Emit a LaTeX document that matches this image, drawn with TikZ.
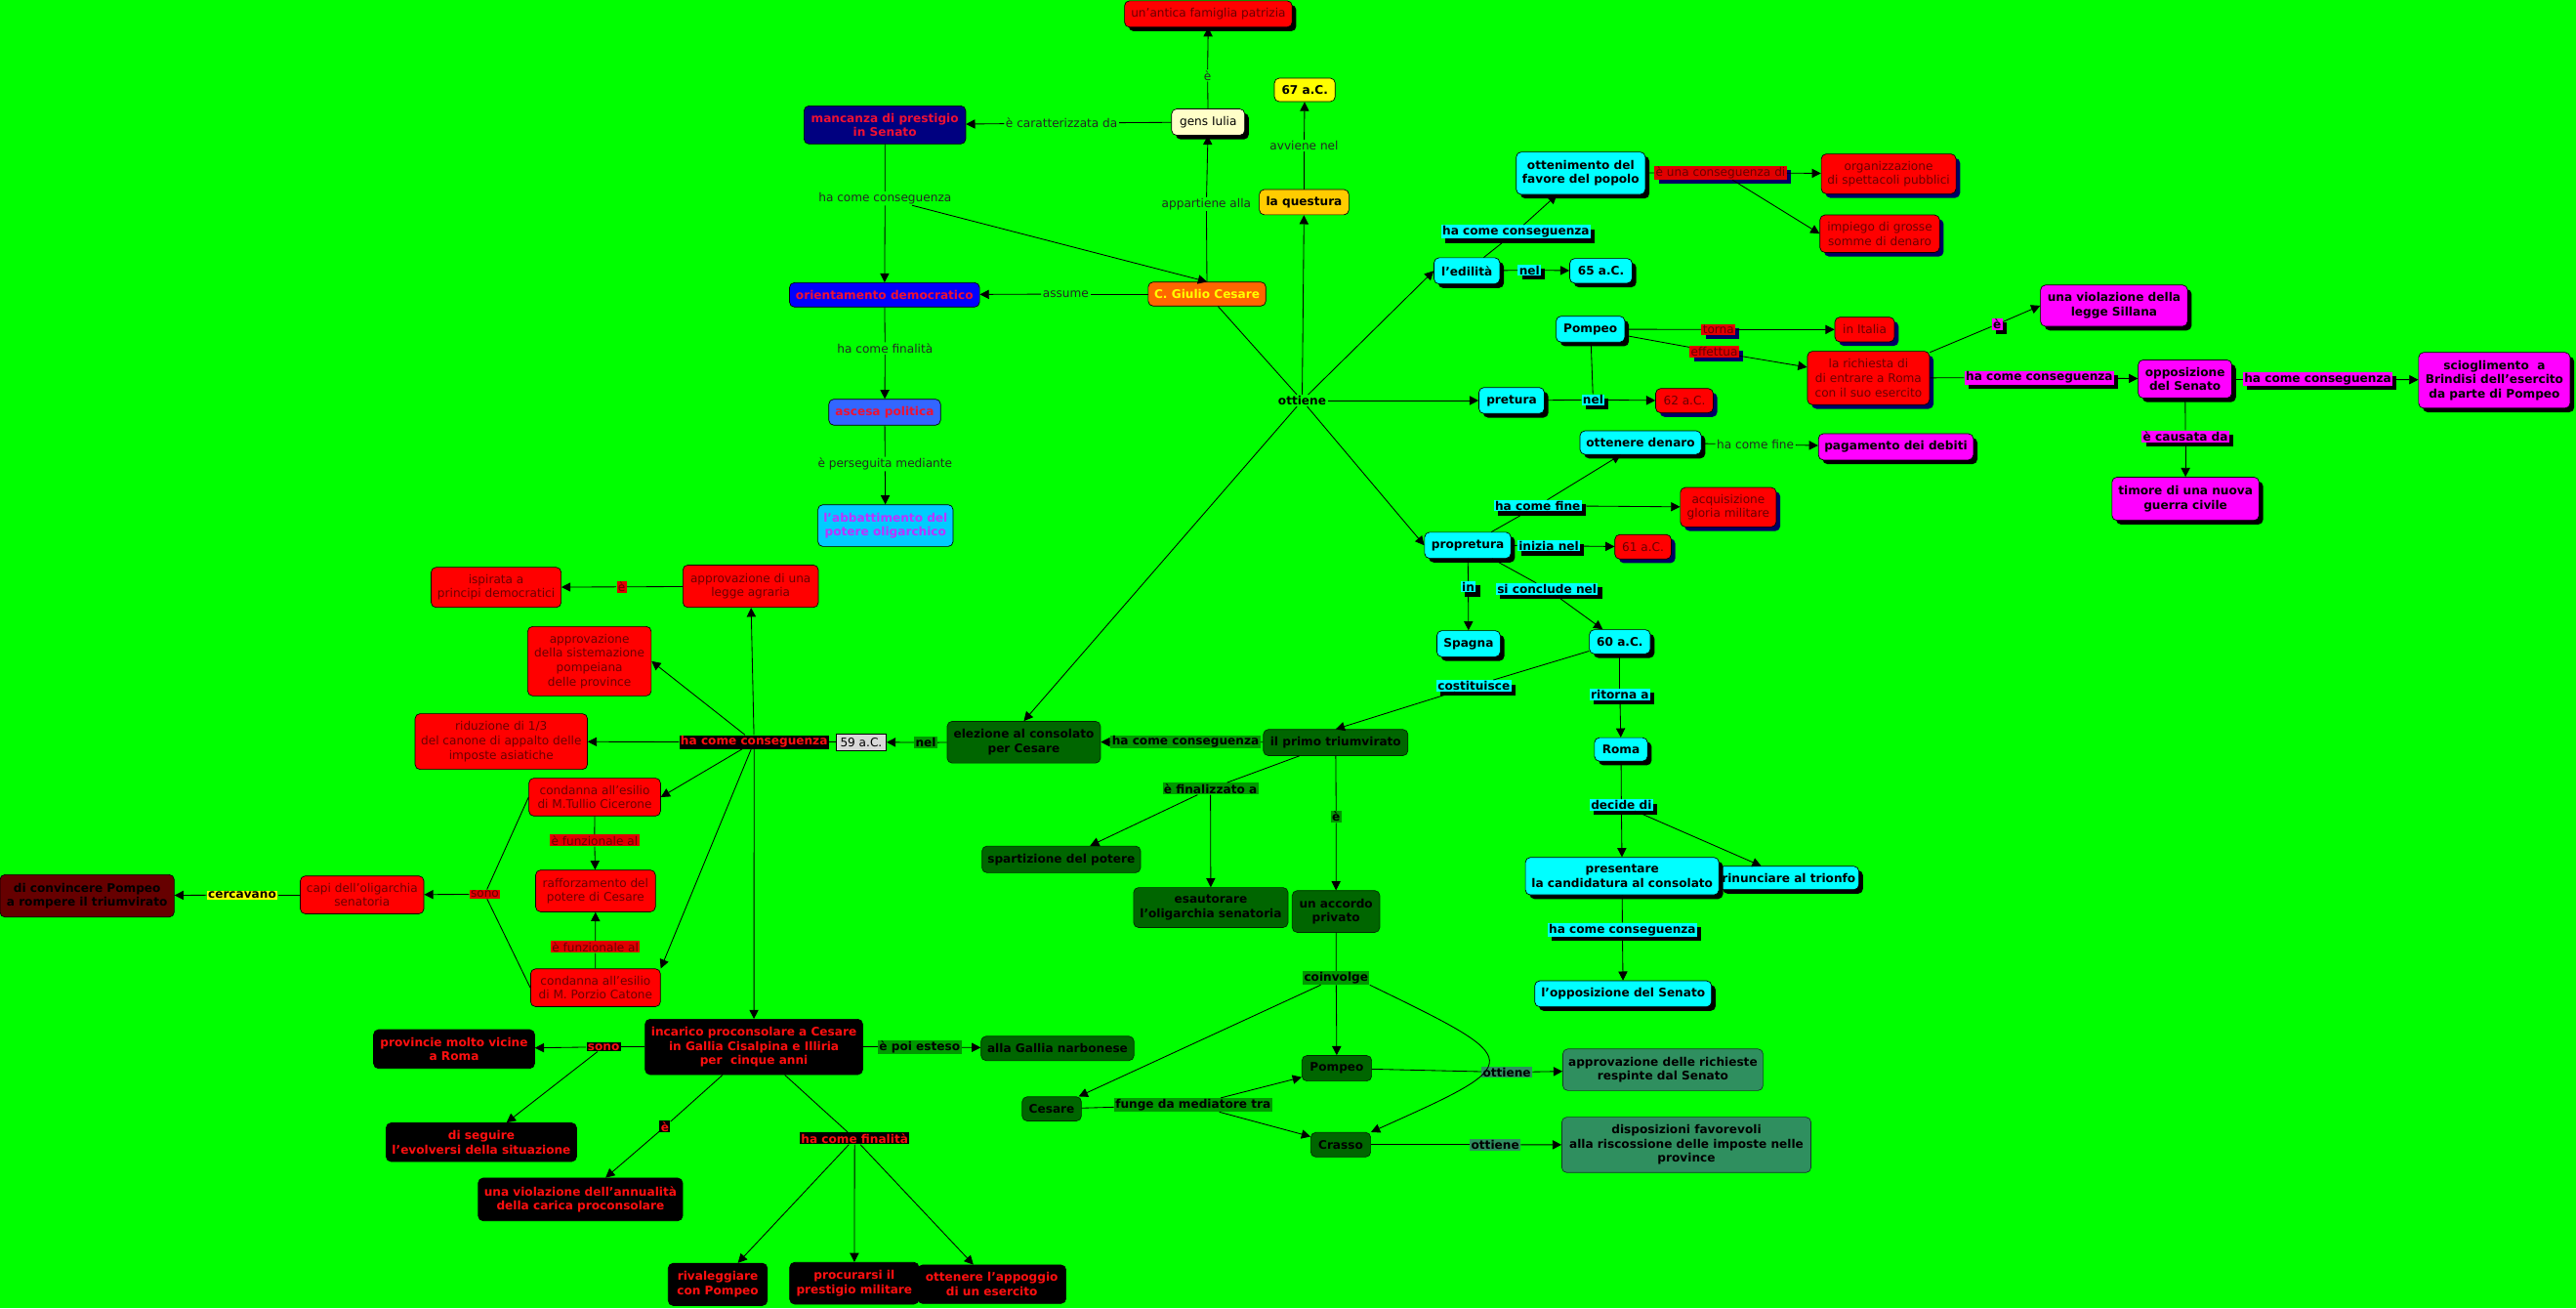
\documentclass[tikz,border=0pt]{standalone}
\usepackage{fontspec}
\setmainfont{DejaVu Sans}
\usetikzlibrary{arrows.meta,shadows}
\definecolor{bgG}{HTML}{00FF00}
\definecolor{cyanF}{HTML}{00FFFF}
\definecolor{redF}{HTML}{FF0000}
\definecolor{redT}{HTML}{6A0000}
\definecolor{redL}{HTML}{E00000}
\definecolor{navyS}{HTML}{000066}
\definecolor{magF}{HTML}{FF00FF}
\definecolor{dgreenF}{HTML}{006600}
\definecolor{mgreenL}{HTML}{009900}
\definecolor{seaF}{HTML}{2F8F5F}
\definecolor{greyF}{HTML}{D8D8D8}
\definecolor{dredF}{HTML}{660000}
\definecolor{navyF}{HTML}{000080}
\definecolor{blueF}{HTML}{0000FF}
\definecolor{ascF}{HTML}{3366FF}
\definecolor{abbF}{HTML}{00CCFF}
\definecolor{abbT}{HTML}{BB33FF}
\definecolor{orangeF}{HTML}{FF6600}
\definecolor{yelF}{HTML}{FFFF00}
\definecolor{questF}{HTML}{FFCC00}
\definecolor{gensF}{HTML}{FFFFC8}
\definecolor{redB}{HTML}{EE1133}
\definecolor{redK}{HTML}{FF1010}
\newcommand\mapfont{\fontsize{7.2}{8.7}\selectfont}
\tikzset{
  box/.style={draw=black, line width=0.4pt, rounded corners=3pt, align=center, inner xsep=2pt, inner ysep=1pt, font=\mapfont},
  boxb/.style={box, font=\mapfont\bfseries},
  shk/.style={drop shadow={shadow xshift=2.5pt, shadow yshift=-2.5pt, fill=black, opacity=1}},
  shn/.style={drop shadow={shadow xshift=2.5pt, shadow yshift=-2.5pt, fill=navyS, opacity=1}},
  cyanN/.style={boxb, fill=cyanF, shk},
  rednS/.style={box, fill=redF, text=redT, shn},
  redN/.style={box, fill=redF, text=redT},
  magN/.style={boxb, fill=magF, shk},
  greenN/.style={boxb, fill=dgreenF, draw=black!60!dgreenF},
  seaN/.style={boxb, fill=seaF, draw=black!60!seaF},
  blackN/.style={boxb, fill=black, text=redK},
  greyN/.style={box, rounded corners=0pt, fill=greyF, inner xsep=2.5pt},
  lbl/.style={font=\mapfont, inner xsep=0.8pt, inner ysep=0.6pt},
  lp/.style={lbl, text=black!85},
  lpb/.style={lbl, font=\mapfont\bfseries},
  lc/.style={lbl, font=\mapfont\bfseries, fill=cyanF, shk},
  lr/.style={lbl, fill=redL, text=redT, shn},
  lm/.style={lbl, font=\mapfont\bfseries, fill=magF, shk},
  lg/.style={lbl, font=\mapfont\bfseries, fill=mgreenL},
  ls/.style={lbl, font=\mapfont\bfseries, fill=seaF},
  lk/.style={lbl, font=\mapfont\bfseries, fill=black, text=redK},
  lrr/.style={lbl, fill=redL, text=redT},
  ly/.style={lbl, font=\mapfont\bfseries, fill=yelF},
  con/.style={draw=black, line width=0.5pt},
  arr/.style={con, -{Triangle[length=5.5pt,width=5.5pt]}}
}
\begin{document}
\begin{tikzpicture}[x=1pt,y=-1pt]
\useasboundingbox (0,0) rectangle (1568,796);
\fill[bgG] (0,0) rectangle (1568,796);

% ---------- top ----------
\node[box, fill=redF, text=redT, shk, minimum width=102, minimum height=16] (antica) at (735.5,8.5) {un'antica famiglia patrizia};
\node[box, fill=gensF, shk, minimum width=44.5, minimum height=16] (gens) at (735.4,74.3) {gens Iulia};
\node[boxb, fill=yelF, minimum width=37, minimum height=14.3] (n67) at (794.2,54.7) {67 a.C.};
\node[boxb, fill=questF, minimum width=54.5, minimum height=15.4] (quest) at (793.8,123) {la questura};
\node[boxb, fill=navyF, text=redB, minimum width=98.4, minimum height=23.2] (mancanza) at (538.6,76) {mancanza di prestigio\\in Senato};
\node[boxb, fill=orangeF, text=yelF, minimum width=71.6, minimum height=14.6] (cesare) at (734.7,178.9) {C. Giulio Cesare};
\node[boxb, fill=blueF, text=redB, minimum width=115.7, minimum height=14.8] (orient) at (538.4,179.4) {orientamento democratico};
\node[boxb, fill=ascF, text=redB, minimum width=68, minimum height=15.8] (ascesa) at (538.5,250.8) {ascesa politica};
\node[boxb, fill=abbF, text=abbT, minimum width=82.3, minimum height=25.4] (abbatt) at (539,319.8) {l'abbattimento del\\potere oligarchico};

% ---------- cyan / right ----------
\node[cyanN, minimum width=78.5, minimum height=25.8] (ottenimento) at (962.2,105.4) {ottenimento del\\favore del popolo};
\node[rednS, minimum width=82, minimum height=24.2] (organ) at (1149.6,105.8) {organizzazione\\di spettacoli pubblici};
\node[rednS, minimum width=72.8, minimum height=22.8] (impiego) at (1144.2,142.2) {impiego di grosse\\somme di denaro};
\node[cyanN, minimum width=40, minimum height=15.9] (edil) at (892.9,164.8) {l'edilità};
\node[cyanN, minimum width=38, minimum height=15] (n65) at (974.5,164.8) {65 a.C.};
\node[cyanN, minimum width=41.8, minimum height=15.8] (pompeo1) at (968.1,200.3) {Pompeo};
\node[rednS, minimum width=36.3, minimum height=15] (italia) at (1135,200.5) {in Italia};
\node[rednS, minimum width=74.3, minimum height=32.5] (richiesta) at (1137.3,230) {la richiesta di\\di entrare a Roma\\con il suo esercito};
\node[cyanN, minimum width=39.8, minimum height=15.8] (pretura) at (920.1,243.7) {pretura};
\node[rednS, minimum width=35, minimum height=14.8] (n62) at (1025.3,243.8) {62 a.C.};
\node[magN, minimum width=89.5, minimum height=25.1] (violSill) at (1286.8,186) {una violazione della\\legge Sillana};
\node[magN, minimum width=57, minimum height=23.2] (oppSen) at (1330,230.6) {opposizione\\del Senato};
\node[magN, minimum width=92.2, minimum height=33.9] (sciogl) at (1518.3,231.4) {scioglimento~ a\\Brindisi dell'esercito\\da parte di Pompeo};
\node[magN, minimum width=89.5, minimum height=26.3] (timore) at (1330.3,303.5) {timore di una nuova\\guerra civile};
\node[cyanN, minimum width=73.8, minimum height=14.3] (ottDen) at (998.6,269.3) {ottenere denaro};
\node[magN, minimum width=94.3, minimum height=16] (pagam) at (1154,271.9) {pagamento dei debiti};
\node[rednS, minimum width=58.3, minimum height=24] (acquis) at (1052,308.6) {acquisizione\\gloria militare};
\node[cyanN, minimum width=52.5, minimum height=15.9] (propret) at (893.4,331.8) {propretura};
\node[rednS, minimum width=34.3, minimum height=14.9] (n61) at (1000.1,332.7) {61 a.C.};
\node[cyanN, minimum width=38.6, minimum height=15.9] (spagna) at (893.9,391.7) {Spagna};
\node[cyanN, minimum width=37.1, minimum height=14.7] (n60) at (986,390.5) {60 a.C.};
\node[cyanN, minimum width=32.3, minimum height=14.3] (roma) at (986.7,456) {Roma};
\node[cyanN, minimum width=85, minimum height=14.2] (rinunciare) at (1088.8,534.2) {rinunciare al trionfo};
\node[cyanN, minimum width=117.8, minimum height=22.8] (presentare) at (987.4,533.1) {presentare\\la candidatura al consolato};
\node[cyanN, minimum width=107.6, minimum height=15.8] (oppSen2) at (988,604.7) {l'opposizione del Senato};

% ---------- green ----------
\node[greenN, minimum width=88, minimum height=15.9] (triumv) at (813,451.8) {il primo triumvirato};
\node[greenN, minimum width=93.3, minimum height=25.4] (elezione) at (623.2,451.6) {elezione al consolato\\per Cesare};
\node[greyN, minimum width=30.2, minimum height=10.3] (n59) at (524.2,451.5) {59 a.C.};
\node[greenN, minimum width=96.5, minimum height=16.2] (spartiz) at (646,522.9) {spartizione del potere};
\node[greenN, minimum width=94, minimum height=24.3] (esaut) at (737,552.2) {esautorare\\l'oligarchia senatoria};
\node[greenN, minimum width=53.3, minimum height=25.4] (accordo) at (813.2,554.6) {un accordo\\privato};
\node[greenN, minimum width=36, minimum height=14.7] (cesare2) at (640.2,674.7) {Cesare};
\node[greenN, minimum width=42.4, minimum height=15.5] (pompeo2) at (813.7,650) {Pompeo};
\node[greenN, minimum width=36.4, minimum height=14.9] (crasso) at (816.1,696.5) {Crasso};
\node[seaN, minimum width=121.8, minimum height=25.3] (approvRich) at (1012.2,650.9) {approvazione delle richieste\\respinte dal Senato};
\node[seaN, minimum width=151.6, minimum height=33.7] (dispos) at (1026.5,696.6) {disposizioni favorevoli\\alla riscossione delle imposte nelle\\province};

% ---------- left ----------
\node[redN, minimum width=82.4, minimum height=25.8] (agraria) at (456.9,356.7) {approvazione di una\\legge agraria};
\node[redN, minimum width=79.1, minimum height=24.4] (ispirata) at (302,357.4) {ispirata a\\principi democratici};
\node[redN, minimum width=75.2, minimum height=42.2] (sistem) at (358.8,402.3) {approvazione\\della sistemazione\\pompeiana\\delle province};
\node[redN, minimum width=104.9, minimum height=33.9] (riduz) at (305.1,451.2) {riduzione di 1/3\\del canone di appalto delle\\imposte asiatiche};
\node[redN, minimum width=80.1, minimum height=23] (cicer) at (362,485) {condanna all'esilio\\di M.Tullio Cicerone};
\node[redN, minimum width=72.9, minimum height=25.4] (raffor) at (362.5,542.1) {rafforzamento del\\potere di Cesare};
\node[redN, minimum width=79, minimum height=23] (catone) at (362.5,601) {condanna all'esilio\\di M. Porzio Catone};
\node[redN, minimum width=75.2, minimum height=23] (capi) at (220.4,544.5) {capi dell'oligarchia\\senatoria};
\node[boxb, fill=dredF, minimum width=106, minimum height=25.8] (convincere) at (53,545.1) {di convincere Pompeo\\a rompere il triumvirato};
\node[blackN, minimum width=132.4, minimum height=33.7] (incarico) at (458.9,637) {incarico proconsolare a Cesare\\in Gallia Cisalpina e Illiria\\per~ cinque anni};
\node[greenN, minimum width=93, minimum height=14.8] (gallia) at (643.7,637.9) {alla Gallia narbonese};
\node[blackN, minimum width=98, minimum height=23.6] (provincie) at (276.4,638.3) {provincie molto vicine\\a Roma};
\node[blackN, minimum width=115.9, minimum height=23.5] (seguire) at (293,695) {di seguire\\l'evolversi della situazione};
\node[blackN, minimum width=124.4, minimum height=26] (violAnn) at (353.3,729.8) {una violazione dell'annualità\\della carica proconsolare};
\node[blackN, minimum width=60.3, minimum height=25.7] (rival) at (436.9,781.5) {rivaleggiare\\con Pompeo};
\node[blackN, minimum width=78.6, minimum height=25.4] (procurarsi) at (520,780.8) {procurarsi il\\prestigio militare};
\node[blackN, minimum width=90.3, minimum height=23.4] (ottAppoggio) at (603.7,781.4) {ottenere l'appoggio\\di un esercito};

% ---------- labels ----------
\node[lp] (l_e1) at (735,46) {è};
\node[lp] (l_car) at (646.2,74.9) {è caratterizzata da};
\node[lp] (l_app) at (734.3,124.2) {appartiene alla};
\node[lp] (l_avv) at (793.8,88.6) {avviene nel};
\node[lp] (l_hcc1) at (538.7,120.7) {ha come conseguenza};
\node[lp] (l_ass) at (648.7,178.9) {assume};
\node[lp] (l_fin) at (538.7,212) {ha come finalità};
\node[lp] (l_pers) at (538.7,282.3) {è perseguita mediante};
\node[lpb] (ott) at (792.6,243.7) {ottiene};

\node[lc] (l_hcc2) at (922.7,141.1) {ha come conseguenza};
\node[lc] (l_nel1) at (931,164.4) {nel};
\node[lr] (l_cons) at (1047.3,105) {è una conseguenza di};
\node[lr] (l_torna) at (1046,200.5) {torna};
\node[lr] (l_eff) at (1043.5,214) {effettua};
\node[lc] (l_nel2) at (969.7,243.3) {nel};
\node[lm] (l_e2) at (1215.6,197.3) {è};
\node[lm] (l_hcc3) at (1241.3,229.8) {ha come conseguenza};
\node[lm] (l_hcc4) at (1410.8,230.6) {ha come conseguenza};
\node[lm] (l_caus) at (1330.3,265.5) {è causata da};
\node[lp] (l_fine1) at (1068.5,270.4) {ha come fine};
\node[lc] (l_fine2) at (936,307.7) {ha come fine};
\node[lc] (l_iniz) at (942.7,332.1) {inizia nel};
\node[lc] (l_in) at (893.7,357.1) {in};
\node[lc] (l_concl) at (941.6,358.3) {si conclude nel};
\node[lc] (l_cost) at (897.1,417.3) {costituisce};
\node[lc] (l_rit) at (986,422.5) {ritorna a};
\node[lc] (l_dec) at (986.9,489.8) {decide di};
\node[lc] (l_hcc5) at (987.5,565.7) {ha come conseguenza};

\node[lg] (l_hcc6) at (721.6,451.4) {ha come conseguenza};
\node[lg] (l_nel3) at (563.5,451.8) {nel};
\node[lg] (l_final) at (736.8,479.9) {è finalizzato a};
\node[lg] (l_e3) at (813.3,497) {è};
\node[lg] (l_coinv) at (813.3,595) {coinvolge};
\node[lg] (l_funge) at (726.2,672.3) {funge da mediatore tra};
\node[ls] (l_ott1) at (917.2,652.4) {ottiene};
\node[ls] (l_ott2) at (910.1,696.5) {ottiene};

\node[lk] (l_hcc7) at (459,451.5) {ha come conseguenza};
\node[lrr] (l_e4) at (378.4,357.1) {è};
\node[lrr] (l_funz1) at (361.9,511.4) {è funzionale al};
\node[lrr] (l_funz2) at (362.4,576.2) {è funzionale al};
\node[lrr] (l_sono1) at (295.1,544.1) {sono};
\node[ly] (l_cerc) at (147.4,544.5) {cercavano};
\node[lg] (l_esteso) at (559.8,637) {è poi esteso};
\node[lk] (l_sono2) at (367.4,637) {sono};
\node[lk] (l_e5) at (404.7,685.5) {è};
\node[lk] (l_fin2) at (520.2,692.7) {ha come finalità};

% ---------- connectors: top ----------
\draw[con] (gens) -- (l_e1); \draw[arr] (l_e1) -- (antica);
\draw[con] (gens) -- (l_car); \draw[arr] (l_car) -- (mancanza);
\draw[con] (cesare) -- (l_app); \draw[arr] (l_app) -- (gens);
\draw[con] (quest) -- (l_avv); \draw[arr] (l_avv) -- (n67);
\draw[con] (mancanza) -- (l_hcc1); \draw[arr] (l_hcc1) -- (orient); \draw[arr] (l_hcc1) -- (cesare.north);
\draw[con] (cesare) -- (l_ass); \draw[arr] (l_ass) -- (orient);
\draw[con] (orient) -- (l_fin); \draw[arr] (l_fin) -- (ascesa);
\draw[con] (ascesa) -- (l_pers); \draw[arr] (l_pers) -- (abbatt);
\draw[con] (cesare) -- (ott);
\draw[arr] (ott) -- (quest);
\draw[arr] (ott) -- (edil.west);
\draw[arr] (ott) -- (pretura);
\draw[arr] (ott) -- (propret.west);
\draw[arr] (ott) -- (elezione.north);

% ---------- connectors: cyan ----------
\draw[con] (edil) -- (l_hcc2); \draw[arr] (l_hcc2) -- (ottenimento);
\draw[con] (edil) -- (l_nel1); \draw[arr] (l_nel1) -- (n65);
\draw[con] (ottenimento) -- (l_cons); \draw[arr] (l_cons) -- (organ); \draw[arr] (l_cons) -- (impiego.west);
\draw[con] (pompeo1) -- (l_torna); \draw[arr] (l_torna) -- (italia);
\draw[con] (pompeo1) -- (l_eff); \draw[arr] (l_eff) -- (richiesta.170);
\draw[con] (pretura) -- (l_nel2); \draw[arr] (l_nel2) -- (n62); \draw[con] (pompeo1) -- (l_nel2);
\draw[con] (richiesta) -- (l_e2); \draw[arr] (l_e2) -- (violSill.west);
\draw[con] (richiesta) -- (l_hcc3); \draw[arr] (l_hcc3) -- (oppSen);
\draw[con] (oppSen) -- (l_hcc4); \draw[arr] (l_hcc4) -- (sciogl);
\draw[con] (oppSen) -- (l_caus); \draw[arr] (l_caus) -- (timore);
\draw[con] (ottDen) -- (l_fine1); \draw[arr] (l_fine1) -- (pagam);
\draw[con] (propret) -- (l_fine2); \draw[arr] (l_fine2) -- (ottDen); \draw[arr] (l_fine2) -- (acquis);
\draw[con] (propret) -- (l_iniz); \draw[arr] (l_iniz) -- (n61);
\draw[con] (propret) -- (l_in); \draw[arr] (l_in) -- (spagna);
\draw[con] (propret) -- (l_concl); \draw[arr] (l_concl) -- (n60);
\draw[con] (n60) -- (l_rit); \draw[arr] (l_rit) -- (roma);
\draw[con] (n60) -- (l_cost); \draw[arr] (l_cost) -- (triumv.north);
\draw[con] (roma) -- (l_dec); \draw[arr] (l_dec) -- (presentare); \draw[arr] (l_dec) -- (rinunciare);
\draw[con] (presentare) -- (l_hcc5); \draw[arr] (l_hcc5) -- (oppSen2);

% ---------- connectors: green ----------
\draw[con] (triumv) -- (l_hcc6); \draw[arr] (l_hcc6) -- (elezione);
\draw[con] (elezione) -- (l_nel3); \draw[arr] (l_nel3) -- (n59);
\draw[con] (triumv) -- (l_final); \draw[arr] (l_final) -- (spartiz); \draw[arr] (l_final) -- (esaut);
\draw[con] (triumv) -- (l_e3); \draw[arr] (l_e3) -- (accordo);
\draw[con] (accordo) -- (l_coinv);
\draw[arr] (l_coinv) -- (cesare2); \draw[arr] (l_coinv) -- (pompeo2);
\draw[arr] (l_coinv.south east) .. controls (930,646) .. (crasso.north east);
\draw[con] (cesare2) -- (l_funge); \draw[arr] (l_funge) -- (pompeo2); \draw[arr] (l_funge) -- (crasso);
\draw[con] (pompeo2) -- (l_ott1); \draw[arr] (l_ott1) -- (approvRich);
\draw[con] (crasso) -- (l_ott2); \draw[arr] (l_ott2) -- (dispos);

% ---------- connectors: left ----------
\draw[con] (n59) -- (l_hcc7);
\draw[arr] (l_hcc7) -- (agraria);
\draw[arr] (l_hcc7) -- (sistem.east);
\draw[arr] (l_hcc7) -- (riduz);
\draw[arr] (l_hcc7) -- (cicer.east);
\draw[arr] (l_hcc7) -- (catone.north east);
\draw[arr] (l_hcc7) -- (incarico);
\draw[con] (agraria) -- (l_e4); \draw[arr] (l_e4) -- (ispirata);
\draw[con] (cicer) -- (l_funz1); \draw[arr] (l_funz1) -- (raffor);
\draw[con] (catone) -- (l_funz2); \draw[arr] (l_funz2) -- (raffor);
\draw[con] (cicer.west) -- (l_sono1); \draw[con] (catone.west) -- (l_sono1); \draw[arr] (l_sono1) -- (capi);
\draw[con] (capi) -- (l_cerc); \draw[arr] (l_cerc) -- (convincere);
\draw[con] (incarico) -- (l_esteso); \draw[arr] (l_esteso) -- (gallia);
\draw[con] (incarico) -- (l_sono2); \draw[arr] (l_sono2) -- (provincie); \draw[arr] (l_sono2) -- (seguire);
\draw[con] (incarico) -- (l_e5); \draw[arr] (l_e5) -- (violAnn);
\draw[con] (incarico) -- (l_fin2);
\draw[arr] (l_fin2) -- (rival); \draw[arr] (l_fin2) -- (procurarsi); \draw[arr] (l_fin2) -- (ottAppoggio);
\end{tikzpicture}
\end{document}
